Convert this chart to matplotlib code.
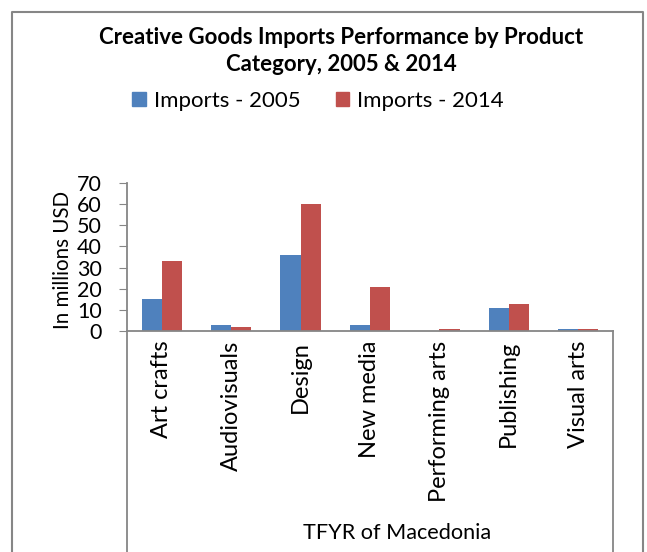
import numpy as np
import matplotlib
matplotlib.use('Agg')
import matplotlib.pyplot as plt
from matplotlib.lines import Line2D
from matplotlib.patches import Patch

plt.rcParams['font.family'] = ['Lato', 'DejaVu Sans']

categories = ['Art crafts', 'Audiovisuals', 'Design', 'New media',
              'Performing arts', 'Publishing', 'Visual arts']
imports_2005 = [15, 3, 36, 3, 0, 11, 1]
imports_2014 = [33, 2, 60, 21, 1, 13, 1]
series_names = ['Imports - 2005', 'Imports - 2014']
colors = ['#4F81BD', '#C0504D']

W, H = 647, 552
figure = plt.figure(figsize=(W / 100, H / 100), dpi=100)
left, right, bottom, top = 127, 613, 331, 183
axe = figure.add_axes([left / W, 1 - bottom / H, (right - left) / W, (bottom - top) / H])

x = np.arange(len(categories))
width = 0.29
axe.bar(x - width / 2, imports_2005, width, color=colors[0], label=series_names[0])
axe.bar(x + width / 2, imports_2014, width, color=colors[1], label=series_names[1])

axe.set_xlim(-0.5, len(categories) - 0.5)
axe.set_ylim(0, 70)
axe.set_yticks(range(0, 71, 10))
axe.tick_params(axis='y', labelsize=15.5, length=6, color='#868686', pad=12)
axe.set_xticks(x)
axe.set_xticklabels(categories, rotation=90, fontsize=17)
axe.tick_params(axis='x', length=0, pad=7)
for side in ['top', 'right']:
    axe.spines[side].set_visible(False)
for side in ['left', 'bottom']:
    axe.spines[side].set_color('#868686')
    axe.spines[side].set_linewidth(1.3)
axe.set_ylabel('In millions USD', fontsize=14.8, va='center')
axe.yaxis.set_label_coords((63 - left) / (right - left), 0.48)

# multi-level category frame below the axis
for px in (left, right):
    figure.add_artist(Line2D([px / W, px / W], [1 - bottom / H, 0], color='#868686', lw=1.3))
figure.text(397 / W, 1 - 533 / H, 'TFYR of Macedonia', ha='center', va='center', fontsize=15.6)

# outer chart border
figure.add_artist(Line2D([12 / W, 12 / W, 643 / W, 643 / W], [0, 1 - 12 / H, 1 - 12 / H, 0],
                         color='#868686', lw=1.5))

figure.text(341 / W, 1 - 51 / H, 'Creative Goods Imports Performance by Product\nCategory, 2005 & 2014',
            ha='center', va='center', fontsize=16, fontweight='bold', linespacing=1.3)

handles = [Patch(color=c) for c in colors]
figure.legend(handles, series_names, loc='center', bbox_to_anchor=(318 / W, 1 - 101 / H), ncol=2,
              frameon=False, fontsize=16, handlelength=0.6, handleheight=0.6, handletextpad=0.35,
              columnspacing=1.6)

figure.savefig('out.png', dpi=100)
